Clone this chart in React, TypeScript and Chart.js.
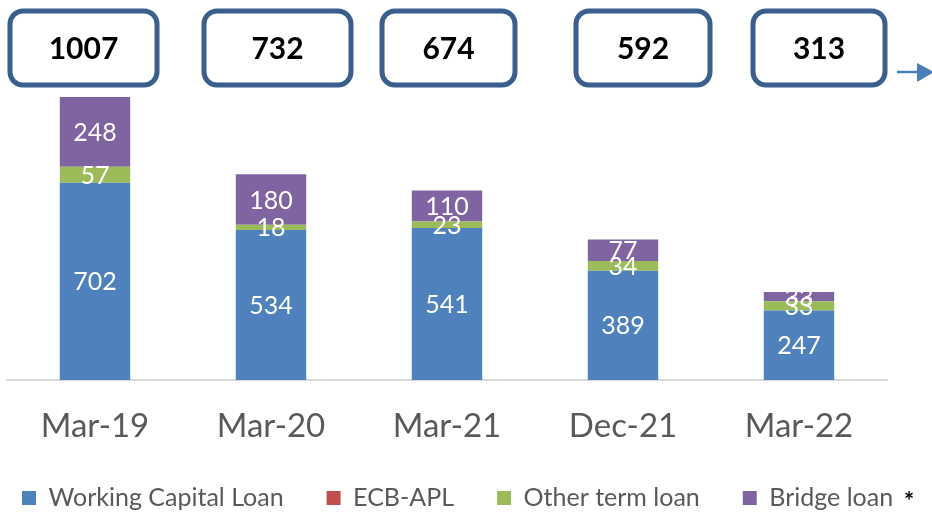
import React, { useEffect, useRef } from "react";
import { Chart, registerables } from "chart.js";

Chart.register(...registerables);

const categories = ["Mar-19", "Mar-20", "Mar-21", "Dec-21", "Mar-22"];
const workingCapital = [702, 534, 541, 389, 247];
const ecbApl = [0, 0, 0, 0, 0];
const otherTerm = [57, 18, 23, 34, 33];
const bridge = [248, 180, 110, 77, 33];
const totals = [1007, 732, 674, 592, 313];

// annotation box layout (style only)
const boxOffsets = [-11.5, 6.5, 1.5, 20, 20];
const boxWidths = [147, 147, 133, 134, 132];

const FONT = "Lato, 'Open Sans', sans-serif";
const LEGEND_PAD = 43;
const LEGEND_FONT = 25;
const LEGEND_START = 22;

const annotationsPlugin = {
  id: "annotations",
  afterDatasetsDraw(chart: any) {
    const ctx = chart.ctx;
    ctx.save();
    ctx.fillStyle = "#ffffff";
    ctx.font = `25px ${FONT}`;
    ctx.textAlign = "center";
    ctx.textBaseline = "middle";
    chart.data.datasets.forEach((ds: any, di: number) => {
      const meta = chart.getDatasetMeta(di);
      meta.data.forEach((bar: any, i: number) => {
        const v = ds.data[i];
        if (!v) return;
        const y = (bar.y + bar.base) / 2;
        ctx.fillText(String(v), bar.x, y + 1);
      });
    });
    ctx.restore();
  },
  afterDraw(chart: any) {
    const ctx = chart.ctx;
    const xs = chart.scales.x;
    ctx.save();
    totals.forEach((t, i) => {
      const cx = xs.getPixelForValue(i) + boxOffsets[i];
      const w = boxWidths[i];
      const x0 = cx - w / 2;
      const y0 = 11;
      const h = 74;
      ctx.beginPath();
      (ctx as any).roundRect(x0, y0, w, h, 13);
      ctx.fillStyle = "#ffffff";
      ctx.fill();
      ctx.lineWidth = 5;
      ctx.strokeStyle = "#3b5f8d";
      ctx.stroke();
      ctx.fillStyle = "#000000";
      ctx.font = `bold 30px ${FONT}`;
      ctx.textAlign = "center";
      ctx.textBaseline = "middle";
      ctx.fillText(String(t), cx, y0 + h / 2 + 1);
    });
    // arrow at right
    ctx.strokeStyle = "#4a7ebb";
    ctx.fillStyle = "#4a7ebb";
    ctx.lineWidth = 2.5;
    ctx.beginPath();
    ctx.moveTo(897, 72);
    ctx.lineTo(920, 72);
    ctx.stroke();
    ctx.beginPath();
    ctx.moveTo(917, 63);
    ctx.lineTo(934, 72);
    ctx.lineTo(917, 82);
    ctx.closePath();
    ctx.fill();
    // asterisk after legend
    const lg = chart.legend;
    if (lg && lg.lineWidths) {
      const lw = lg.lineWidths[0];
      const endX = LEGEND_START + lw - LEGEND_PAD;
      const yMid = lg.top + LEGEND_PAD + LEGEND_FONT / 2;
      ctx.fillStyle = "#000000";
      ctx.font = `bold 24px ${FONT}`;
      ctx.textAlign = "left";
      ctx.textBaseline = "alphabetic";
      ctx.fillText("*", endX + 11, yMid + 12);
    }
    ctx.restore();
  },
};

const legendFitPlugin = {
  id: "legendFit",
  beforeInit(chart: any) {
    const lg = chart.legend;
    if (!lg) return;
    const orig = lg.fit;
    lg.fit = function () {
      const mw = this.maxWidth;
      this.maxWidth = 5000;
      orig.call(this);
      this.maxWidth = mw;
      this.width = mw;
      this.height -= 8.5;
    };
  },
  afterLayout(chart: any) {
    const lg = chart.legend;
    if (!lg || !lg.lineWidths) return;
    const L = lg.lineWidths[0];
    const left = LEGEND_START - 0.5 - LEGEND_PAD;
    lg.left = left;
    lg.right = left + LEGEND_PAD + L + 1;
  },
};

export default function App() {
  const ref = useRef<HTMLCanvasElement | null>(null);
  useEffect(() => {
    if (!ref.current) return;
    const chart = new Chart(ref.current, {
      type: "bar",
      data: {
        labels: categories,
        datasets: [
          { label: "Working Capital Loan", data: workingCapital, backgroundColor: "#4f81bd" },
          { label: "ECB-APL", data: ecbApl, backgroundColor: "#c0504d" },
          { label: "Other term loan", data: otherTerm, backgroundColor: "#9bbb59" },
          { label: "Bridge loan", data: bridge, backgroundColor: "#8064a2" },
        ],
      },
      options: {
        responsive: false,
        animation: false,
        layout: { padding: { left: 0, right: 0, top: 97, bottom: 0 } },
        datasets: { bar: { barPercentage: 0.8, categoryPercentage: 0.5 } },
        scales: {
          x: {
            stacked: true,
            grid: { display: false, drawTicks: false },
            border: { color: "#d9d9d9", width: 2 },
            ticks: {
              color: "#595959",
              font: { size: 33, family: FONT, lineHeight: 1.2 },
              padding: 27,
              maxRotation: 0,
            },
            afterFit: (s: any) => { s.height = 62.5; },
          },
          y: {
            stacked: true,
            display: true,
            position: "left",
            min: 0,
            max: 1007,
            grid: { display: false },
            border: { display: false },
            ticks: { display: false },
            afterFit: (s: any) => { s.width = 7; },
          },
          y2: {
            type: "linear",
            display: true,
            position: "right",
            grid: { display: false },
            border: { display: false },
            ticks: { display: false },
            afterFit: (s: any) => { s.width = 45; },
          },
        },
        plugins: {
          tooltip: { enabled: false },
          legend: {
            position: "bottom",
            labels: {
              color: "#595959",
              font: { size: LEGEND_FONT, family: FONT },
              boxWidth: 14,
              boxHeight: 14,
              padding: LEGEND_PAD,
            },
          },
        },
      },
      plugins: [annotationsPlugin, legendFitPlugin],
    } as any);
    return () => chart.destroy();
  }, []);
  return (
    <div style={{ position: "absolute", left: 0, top: 0, width: 932, height: 512, background: "#fff" }}>
      <canvas ref={ref} width={932} height={512} style={{ display: "block" }} />
    </div>
  );
}
